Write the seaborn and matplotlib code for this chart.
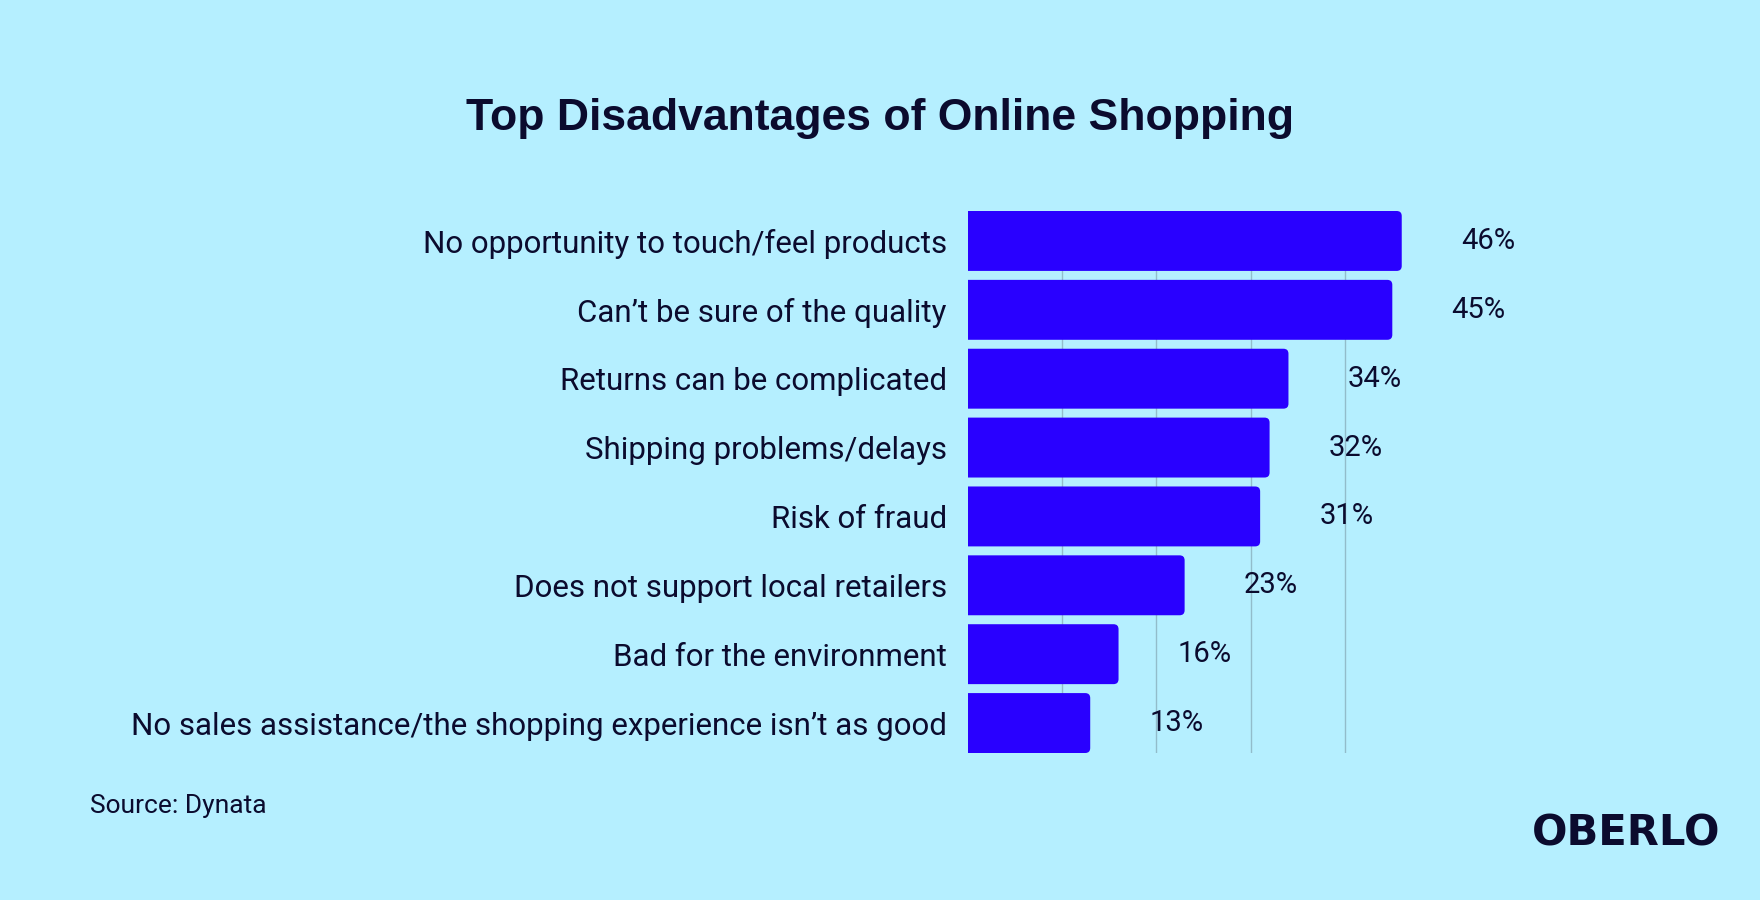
import matplotlib
matplotlib.use("Agg")
import matplotlib.pyplot as plt
from matplotlib.patches import FancyBboxPatch
import seaborn as sns
import pandas as pd

categories = [
    "No opportunity to touch/feel products",
    "Can\u2019t be sure of the quality",
    "Returns can be complicated",
    "Shipping problems/delays",
    "Risk of fraud",
    "Does not support local retailers",
    "Bad for the environment",
    "No sales assistance/the shopping experience isn\u2019t as good",
]
values = [46, 45, 34, 32, 31, 23, 16, 13]
value_labels = ["46%", "45%", "34%", "32%", "31%", "23%", "16%", "13%"]
grid_ticks = [10, 20, 30, 40]

BG = "#b5efff"
BAR = "#2900ff"
TXT = "#0b0b2e"
GRID = "#92bccb"

sns.set_theme(style="white")
plt.rcParams["font.family"] = ["Roboto", "DejaVu Sans"]

df = pd.DataFrame({"category": categories, "value": values})

fig = plt.figure(figsize=(17.6, 9), dpi=100, facecolor=BG)
ax = fig.add_axes([967.5 / 1760, 1 - 753 / 900, 472 / 1760, 542 / 900])
ax.set_facecolor(BG)

sns.barplot(data=df, x="value", y="category", color=BAR, saturation=1,
            width=0.87, ax=ax, zorder=3, edgecolor="none")

ax.set_xlim(0, 50)
ax.set_ylim(7.435, -0.435)

# rounded right corners: replace seaborn rectangles by rounded boxes at the same place
px_x = 472 / 50.0      # pixels per x unit
px_y = 542 / 7.87      # pixels per y unit
r_px = 5.0
r_x = r_px / px_x
aspect = (r_px / px_y) / r_x
for p in list(ax.patches):
    x0, y0 = p.get_x(), p.get_y()
    w, h = p.get_width(), p.get_height()
    fb = FancyBboxPatch((x0 - 1.0, y0), w + 1.0, h,
                        boxstyle=f"round,pad=0,rounding_size={r_x}",
                        mutation_aspect=aspect, facecolor=BAR,
                        edgecolor="none", zorder=3)
    ax.add_patch(fb)
    p.set_visible(False)

ax.set_xticks(grid_ticks)
ax.set_xticklabels([])
ax.tick_params(axis="x", length=0)
ax.tick_params(axis="y", length=0, pad=15, labelsize=22.5, labelcolor=TXT)
ax.grid(axis="x", color=GRID, linewidth=1)
ax.grid(axis="y", visible=False)
for s in ax.spines.values():
    s.set_visible(False)
ax.set_xlabel("")
ax.set_ylabel("")

for i, (v, lab) in enumerate(zip(values, value_labels)):
    ax.annotate(lab, xy=(v, i), xytext=(62, 0), textcoords="offset points",
                ha="center", va="center", fontsize=21, color=TXT,
                annotation_clip=False)

fig.text(0.5, 1 - 118 / 900, "Top Disadvantages of Online Shopping",
         ha="center", va="center", fontsize=32, fontweight="bold",
         color=TXT, family=["Liberation Sans", "DejaVu Sans"])
fig.text(90 / 1760, 1 - 806 / 900, "Source: Dynata", ha="left", va="center",
         fontsize=19, color=TXT)
fig.text(1720 / 1760, 1 - 834 / 900, "OBERLO", ha="right", va="center",
         fontsize=30, fontweight="bold", color=TXT,
         family=["DejaVu Sans"])

fig.savefig("out.png", dpi=100, facecolor=BG)
